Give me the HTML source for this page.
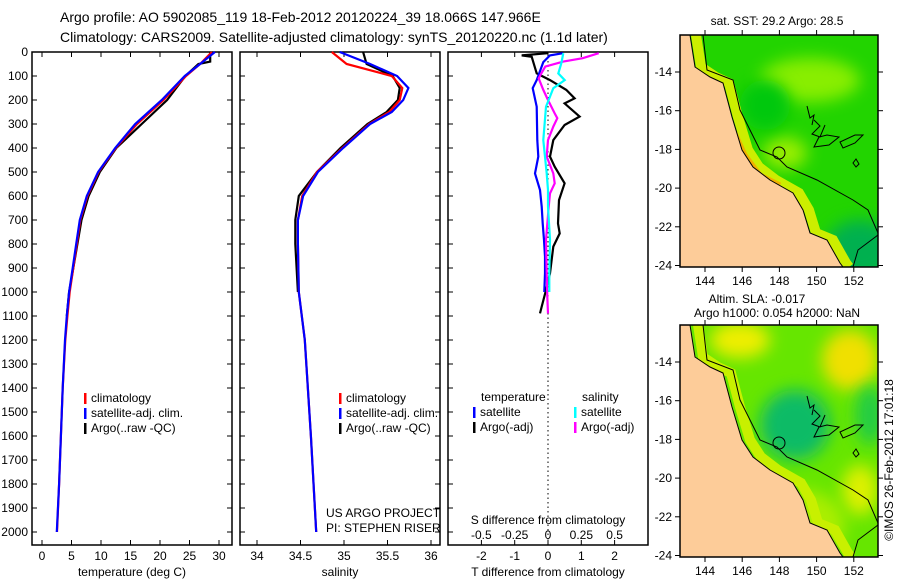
<!DOCTYPE html>
<html><head><meta charset="utf-8"><style>
body{margin:0;background:#fff}
svg{display:block;font-family:"Liberation Sans",sans-serif;font-size:12px}
</style></head><body>
<svg id="c" width="900" height="580" viewBox="0 0 900 580">
<defs>
<filter id="bl" x="-50%" y="-50%" width="200%" height="200%"><feGaussianBlur stdDeviation="8"/></filter>
<clipPath id="m1c"><rect x="680" y="35" width="198" height="232"/></clipPath>
<clipPath id="m2c"><rect x="680" y="325" width="198" height="232"/></clipPath>
</defs>
<text x="60" y="22" font-size="14">Argo profile: AO 5902085_119 18-Feb-2012 20120224_39 18.066S 147.966E</text>
<text x="60" y="42" font-size="14">Climatology: CARS2009. Satellite-adjusted climatology: synTS_20120220.nc (1.1d later)</text>
<g id="p1"></g>
<g id="p2"></g>
<g id="p3"></g>
<g id="maps"></g>
<text transform="translate(893,460) rotate(-90)" text-anchor="middle">©IMOS 26-Feb-2012 17:01:18</text>
</svg>
<script>
// ---- data ----
const depthTicks=[0,100,200,300,400,500,600,700,800,900,1000,1100,1200,1300,1400,1500,1600,1700,1800,1900,2000];
const tempTicks=[0,5,10,15,20,25,30];
const salTicks=[34,34.5,35,35.5,36];
const tdTicks=[-2,-1,0,1,2];
const sdTicks=[-0.5,-0.25,0,0.25,0.5];
const sdTickLabels=["-0.5","-0.25","0","0.25","0.5"];
const climDepth=[0,50,100,200,300,400,500,600,700,800,900,1000,1100,1200,1400,1600,1800,2000];
const climTemp=[28.8,26.8,24.4,20.6,16.1,12.5,9.6,7.7,6.5,5.9,5.3,4.7,4.3,3.95,3.5,3.2,2.9,2.55];
const satTemp=[29.3,26.8,24.2,20.3,15.8,12.4,9.5,7.6,6.4,5.8,5.2,4.6,4.2,3.9,3.5,3.2,2.9,2.5];
const argoDepth=[0,40,50,100,200,300,400,500,600,700,800,900,1000,1100];
const argoTemp=[28.5,28.5,26.5,24.3,21.2,16.9,12.6,9.8,7.9,6.7,6.0,5.3,4.6,4.2];
const climSalDepth=[0,50,100,150,200,250,300,400,500,600,700,800,1000,1200,1600,2000];
const climSal=[34.86,35.03,35.55,35.67,35.64,35.52,35.29,34.98,34.69,34.52,34.47,34.47,34.48,34.55,34.62,34.68];
const satSal=[34.95,35.30,35.61,35.74,35.68,35.55,35.30,34.99,34.70,34.53,34.47,34.47,34.48,34.55,34.62,34.68];
const argoSal=[35.22,35.26,35.56,35.64,35.62,35.49,35.27,34.96,34.69,34.48,34.44,34.44,34.47];
const argoSalDepth=[0,50,100,150,200,250,300,400,500,600,700,800,1000];
const tSatDiffDepth=[5,14,42,117,151,228,367,436,506,575,644,714,783,853,922,1000];
const tSatDiff=[0.45,0.06,-0.14,-0.34,-0.46,-0.34,-0.32,-0.29,-0.39,-0.24,-0.19,-0.16,-0.12,-0.09,-0.09,-0.11];
const tArgoDiffDepth=[5,14,20,89,117,158,193,214,269,304,367,436,478,547,617,714,756,811,922,992,1061,1089];
const tArgoDiff=[0,-0.79,-0.49,-0.34,0.06,0.55,0.8,0.5,0.95,0.5,0.16,0.06,0.2,0.5,0.33,0.3,0.35,0.16,0.06,-0.06,-0.19,-0.24];
const sSatDiffDepth=[5,47,89,117,151,228,367,506,575,644,783,922,1000];
const sSatDiff=[0.115,0.10,0.077,0.125,0.04,-0.015,-0.035,-0.01,0,0,0.015,0.01,0.01];
const sArgoDiffDepth=[5,26,40,61,89,110,158,200,256,276,311,367,436,506,547,589,644,783,922,1020,1089];
const sArgoDiff=[0.38,0.26,0.115,-0.02,-0.05,-0.07,-0.035,0,0.05,0.07,0.04,0,-0.01,0.04,0.05,0.015,0.005,-0.015,-0.01,-0.005,0];
const latTicks=[14,16,18,20,22,24];
const lonTicks=[144,146,148,150,152];

const NS="http://www.w3.org/2000/svg";
function mk(tag,attrs,parent,txt){const e=document.createElementNS(NS,tag);for(const k in attrs)e.setAttribute(k,attrs[k]);if(txt!==undefined)e.textContent=txt;parent.appendChild(e);return e;}
const Y=d=>52+d*0.24;
const top0=52,bot=545;

function panel(g,x0,x1){
  const r=mk('rect',{x:x0,y:top0,width:x1-x0,height:bot-top0,fill:'none',stroke:'#000','stroke-width':1.5},g);
  
  
}
function line(g,xs,ds,fx,color,name){
  const pts=xs.map((v,i)=>fx(v).toFixed(1)+','+Y(ds[i]).toFixed(1)).join(' ');
  const p=mk('polyline',{points:pts,fill:'none',stroke:color,'stroke-width':2.2,'stroke-linejoin':'miter'},g);
  
  
}
function xticks(g,ticks,fx,labels,ly){
  ticks.forEach((t,i)=>{
    const x=fx(t);
    mk('line',{x1:x,x2:x,y1:bot,y2:bot-5,stroke:'#000'},g);
    mk('line',{x1:x,x2:x,y1:top0,y2:top0+5,stroke:'#000'},g);
    const tx=mk('text',{x:x,y:ly,'text-anchor':'middle'},g,labels?labels[i]:String(t));
    
    
  });
}
function legend(g,x,y,items){
  items.forEach((it,i)=>{
    mk('rect',{x:x,y:y+i*15-9,width:2.5,height:11,fill:it[0]},g);
    const t=mk('text',{x:x+7,y:y+i*15},g,it[1]);
    
    
  });
}

// panel 1 temperature
const p1=document.getElementById('p1');
const fT=t=>42+t*5.9;
panel(p1,32,232);
depthTicks.forEach(d=>{
  mk('line',{x1:32,x2:37,y1:Y(d),y2:Y(d),stroke:'#000'},p1);
  mk('line',{x1:232,x2:227,y1:Y(d),y2:Y(d),stroke:'#000'},p1);
  const t=mk('text',{x:28,y:Y(d)+4,'text-anchor':'end'},p1,String(d));
  
  
});
xticks(p1,tempTicks,fT,null,560);
mk('text',{x:132,y:576,'text-anchor':'middle'},p1,'temperature (deg C)');
line(p1,argoTemp,argoDepth,fT,'#000','argo-temperature-line');
line(p1,climTemp,climDepth,fT,'#f00','climatology-temperature-line');
line(p1,satTemp,climDepth,fT,'#00f','satellite-temperature-line');
legend(p1,84,402,[['#f00','climatology'],['#00f','satellite-adj. clim.'],['#000','Argo(..raw -QC)']]);

// panel 2 salinity
const p2=document.getElementById('p2');
const fS=s=>257+(s-34)*87;
panel(p2,240,440);
depthTicks.forEach(d=>{
  mk('line',{x1:240,x2:245,y1:Y(d),y2:Y(d),stroke:'#000'},p2);
  mk('line',{x1:440,x2:435,y1:Y(d),y2:Y(d),stroke:'#000'},p2);
});
xticks(p2,salTicks,fS,null,560);
mk('text',{x:340,y:576,'text-anchor':'middle'},p2,'salinity');
line(p2,argoSal,argoSalDepth,fS,'#000','argo-salinity-line');
line(p2,climSal,climSalDepth,fS,'#f00','climatology-salinity-line');
line(p2,satSal,climSalDepth,fS,'#00f','satellite-salinity-line');
legend(p2,339,402,[['#f00','climatology'],['#00f','satellite-adj. clim.'],['#000','Argo(..raw -QC)']]);
mk('text',{x:326,y:517},p2,'US ARGO PROJECT');
mk('text',{x:326,y:532},p2,'PI: STEPHEN RISER');

// panel 3 differences
const p3=document.getElementById('p3');
const fD=t=>548+t*33.3;
const fSD=s=>548+s*133.3;
panel(p3,448,648);
depthTicks.forEach(d=>{
  mk('line',{x1:448,x2:453,y1:Y(d),y2:Y(d),stroke:'#000'},p3);
});
mk('line',{x1:548,x2:548,y1:top0,y2:bot,stroke:'#000','stroke-dasharray':'1.5,3'},p3);
xticks(p3,tdTicks,fD,null,560);
sdTicks.forEach((s,i)=>{const t=mk('text',{x:fSD(s),y:539,'text-anchor':'middle'},p3,sdTickLabels[i]);});
mk('text',{x:548,y:524,'text-anchor':'middle'},p3,'S difference from climatology');
mk('text',{x:548,y:576,'text-anchor':'middle'},p3,'T difference from climatology');
line(p3,tArgoDiff,tArgoDiffDepth,fD,'#000','argo-temp-diff-line');
line(p3,tSatDiff,tSatDiffDepth,fD,'#00f','satellite-temp-diff-line');
line(p3,sArgoDiff,sArgoDiffDepth,fSD,'#f0f','argo-sal-diff-line');
line(p3,sSatDiff,sSatDiffDepth,fSD,'#0ff','satellite-sal-diff-line');
mk('text',{x:481,y:401},p3,'temperature');
mk('text',{x:582,y:401},p3,'salinity');
legend(p3,473,416,[['#00f','satellite'],['#000','Argo(-adj)']]);
legend(p3,574,416,[['#0ff','satellite'],['#f0f','Argo(-adj)']]);

// maps
const mg=document.getElementById('maps');
const coast=[[690,0],[695,32],[710,42],[723,48],[732,82],[742,115],[753,132],[770,145],[793,158],[803,175],[810,198],[827,205],[840,228],[843,232]];
const shelf=[[703,0],[707,35],[733,45],[740,75],[760,115],[777,122],[787,132],[817,145],[853,165],[868,175],[878,198]];
function map(y0,clip,kind){
  const g=mk('g',{'clip-path':'url(#'+clip+')'},mg);
  
  
  if(kind==='sst'){
    mk('rect',{x:680,y:y0,width:198,height:232,fill:'#22d400'},g);
    mk('ellipse',{cx:810,cy:y0+45,rx:50,ry:22,fill:'#88ee00',filter:'url(#bl)'},g);
    mk('ellipse',{cx:785,cy:y0+118,rx:22,ry:16,fill:'#99ee00',filter:'url(#bl)'},g);
    mk('ellipse',{cx:765,cy:y0+70,rx:25,ry:25,fill:'#00c810',filter:'url(#bl)'},g);
    mk('ellipse',{cx:860,cy:y0+215,rx:35,ry:30,fill:'#00b050',filter:'url(#bl)'},g);
    mk('polyline',{points:coast.map(p=>(p[0]+6)+','+(y0+p[1])).join(' '),fill:'none',stroke:'#ccee00','stroke-width':10},g);
    mk('polyline',{points:`693,${y0+40} 712,${y0+48} 745,${y0+120} 760,${y0+140} 780,${y0+150}`,fill:'none',stroke:'#f0b000','stroke-width':5},g);
  } else {
    mk('rect',{x:680,y:y0,width:198,height:232,fill:'#66e600'},g);
    mk('ellipse',{cx:740,cy:y0+15,rx:30,ry:18,fill:'#eeee00',filter:'url(#bl)'},g);
    mk('ellipse',{cx:850,cy:y0+35,rx:28,ry:30,fill:'#f0e000',filter:'url(#bl)'},g);
    mk('ellipse',{cx:860,cy:y0+165,rx:18,ry:25,fill:'#ddf000',filter:'url(#bl)'},g);
    mk('ellipse',{cx:795,cy:y0+100,rx:35,ry:35,fill:'#11bb66',filter:'url(#bl)'},g);
    mk('ellipse',{cx:870,cy:y0+90,rx:15,ry:30,fill:'#22cc44',filter:'url(#bl)'},g);
    mk('ellipse',{cx:800,cy:y0+200,rx:45,ry:35,fill:'#aaee00',filter:'url(#bl)'},g);
    mk('polyline',{points:coast.map(p=>(p[0]+8)+','+(y0+p[1])).join(' '),fill:'none',stroke:'#c8f000','stroke-width':10},g);
  }
  const land=coast.map(p=>p[0]+','+(y0+p[1])).join(' ')+' 843,'+(y0+240)+' 670,'+(y0+240)+' 670,'+y0;
  const l=mk('polygon',{points:land,fill:'#fdcc99',stroke:'#000','stroke-width':1},g);
  
  mk('polyline',{points:shelf.map(p=>p[0]+','+(y0+p[1])).join(' '),fill:'none',stroke:'#000','stroke-width':1},g);
  mk('polyline',{points:`853,${y0+232} 858,${y0+215} 878,${y0+200}`,fill:'none',stroke:'#000','stroke-width':1},g);
  mk('path',{d:`M807,${y0+71} l3,12 l4,-3 l-2,10 M814,${y0+85} l6,6 l-8,8 l8,3 l5,-12 M819,${y0+102} l-5,10 l15,-2 l10,-8 l-12,-2z M840,${y0+107} l3,6 l12,-5 l8,-8 l-8,0z M856,${y0+124} l3,5 l-3,3 l-3,-4z`,fill:'none',stroke:'#000','stroke-width':1},g);
  const c=mk('circle',{cx:779,cy:y0+118,r:6,fill:'none',stroke:'#000','stroke-width':1},g);
  
  mk('rect',{x:680,y:y0,width:198,height:232,fill:'none',stroke:'#000','stroke-width':1.5},mg);
  latTicks.forEach(la=>{
    const y=y0+37+(la-14)*19.35;
    mk('line',{x1:680,x2:675,y1:y,y2:y,stroke:'#000'},mg);
    mk('line',{x1:878,x2:883,y1:y,y2:y,stroke:'#000'},mg);
    const t=mk('text',{x:672,y:y+4,'text-anchor':'end'},mg,'-'+la);
    
  });
  lonTicks.forEach(lo=>{
    const x=705+(lo-144)*18.6;
    mk('line',{x1:x,x2:x,y1:y0+232,y2:y0+237,stroke:'#000'},mg);
    mk('line',{x1:x,x2:x,y1:y0,y2:y0-5,stroke:'#000'},mg);
    const t=mk('text',{x:x,y:y0+250,'text-anchor':'middle'},mg,String(lo));
    
  });
}
map(35,'m1c','sst');
map(325,'m2c','sla');
mk('text',{x:777,y:25,'text-anchor':'middle'},mg,'sat. SST: 29.2 Argo: 28.5');
mk('text',{x:757,y:303,'text-anchor':'middle'},mg,'Altim. SLA: -0.017');
mk('text',{x:777,y:317,'text-anchor':'middle'},mg,'Argo h1000: 0.054 h2000: NaN');
</script>
</body></html>
